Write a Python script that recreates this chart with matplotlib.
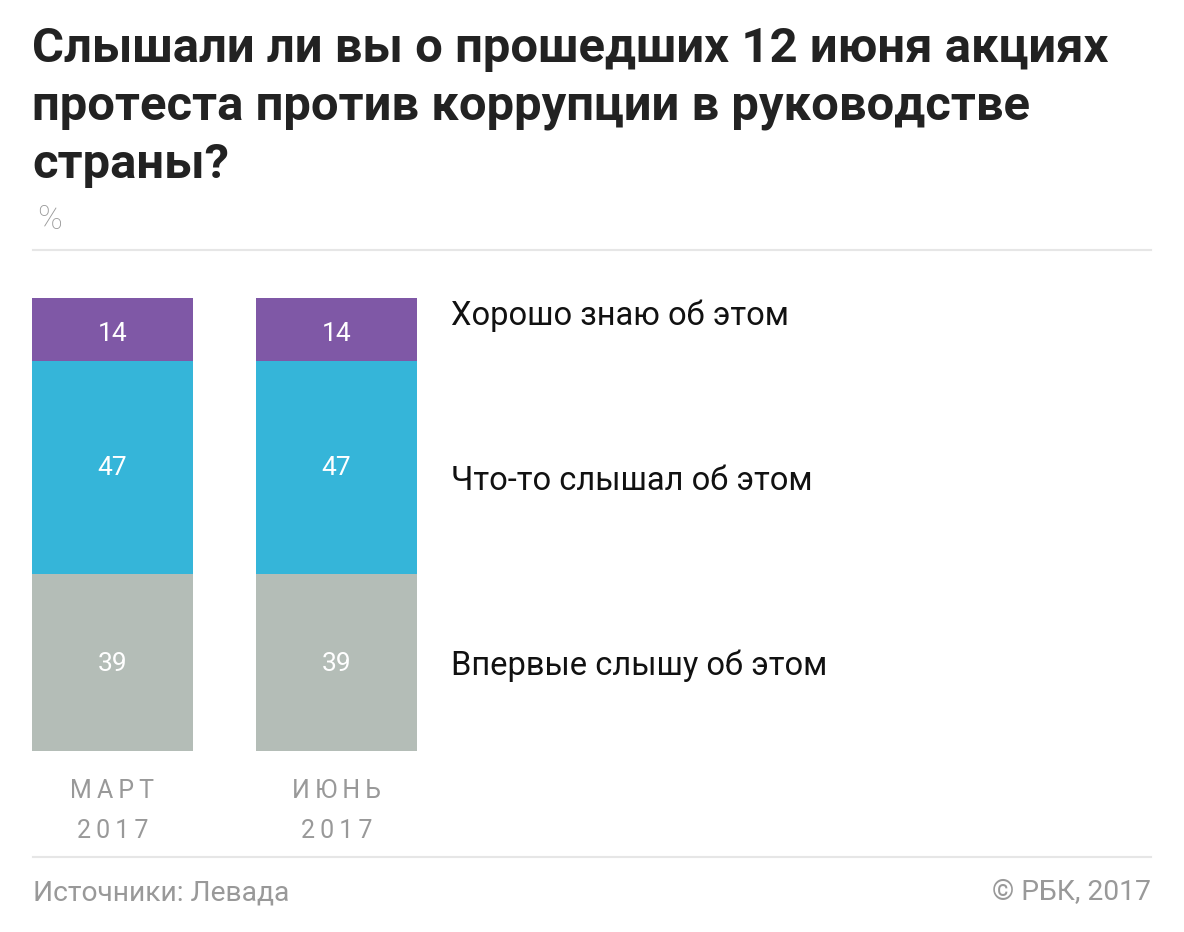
import matplotlib
matplotlib.use("Agg")
import matplotlib.pyplot as plt

periods = ["МАРТ\n2017", "ИЮНЬ\n2017"]
series_names = ["Впервые слышу об этом", "Что-то слышал об этом", "Хорошо знаю об этом"]
values = {
    "Впервые слышу об этом": [39, 39],
    "Что-то слышал об этом": [47, 47],
    "Хорошо знаю об этом": [14, 14],
}
colors = ["#b4bdb7", "#35b5d9", "#7f58a6"]

title = "Слышали ли вы о прошедших 12 июня акциях\nпротеста против коррупции в руководстве\nстраны?"
unit = "%"
source = "Источники: Левада"
credit = "© РБК, 2017"

W, H = 1184, 932
fig = plt.figure(figsize=(W / 100, H / 100), dpi=100)
fam = ["Roboto", "DejaVu Sans"]

def fx(px):
    return px / W

def fy(py):
    return 1 - py / H

# axes for bars
ax = fig.add_axes([fx(32), fy(751), fx(417) - fx(32), fy(298) - fy(751)])
x = list(range(len(periods)))
bw = 161 / 224
bottom = [0] * len(periods)
num_shift_px = [-1, 0, -4]
for name, c, dy in zip(series_names, colors, num_shift_px):
    v = values[name]
    ax.bar(x, v, width=bw, bottom=bottom, color=c, linewidth=0)
    for xi, (b, val) in enumerate(zip(bottom, v)):
        ax.annotate(str(val), xy=(xi, b + val / 2), xytext=(0, dy * 0.72),
                    textcoords="offset points", ha="center", va="center",
                    color="white", fontsize=19, family=fam)
    bottom = [b + val for b, val in zip(bottom, v)]
ax.set_xlim(-bw / 2, len(periods) - 1 + bw / 2)
ax.set_ylim(0, 100)
ax.axis("off")

# series labels on the right (at the second bar's segment centers)
label_shift_px = [-3, -13, 14]
cum = 0
for name, dy in zip(series_names, label_shift_px):
    mid = cum + values[name][-1] / 2
    cum += values[name][-1]
    ax.annotate(name, xy=(len(periods) - 1 + bw / 2, mid), xycoords="data",
                xytext=(34 * 0.72, dy * 0.72), textcoords="offset points",
                ha="left", va="center",
                fontsize=23.5, family=fam, color="#111111", annotation_clip=False)

# period labels
for xi, lab in enumerate(periods):
    l1, l2 = lab.split("\n")
    ax.annotate("\u2009".join(l1), xy=(xi, 0), xycoords="data", xytext=(0, -40 * 0.72),
                textcoords="offset points", ha="center", va="center",
                fontsize=18, family=fam, color="#999999", annotation_clip=False)
    ax.annotate("\u2009".join(l2), xy=(xi, 0), xycoords="data", xytext=(0, -80 * 0.72),
                textcoords="offset points", ha="center", va="center",
                fontsize=18, family=fam, color="#999999", annotation_clip=False)

# title
fig.text(fx(32), fy(26), title, ha="left", va="top", fontsize=35.3,
         fontweight="bold", family=fam, color="#222222", linespacing=1.32)
fig.text(fx(37), fy(220), unit, ha="left", va="center", fontsize=24,
         family=fam, color="#999999", fontweight="light")

# rules
for yy in (250, 857):
    fig.add_artist(plt.Line2D([fx(33), fx(1151)], [fy(yy), fy(yy)],
                              color="#e6e6e6", linewidth=1.5))

fig.text(fx(33), fy(893), source, ha="left", va="center", fontsize=20.3,
         family=fam, color="#999999")
fig.text(fx(1151), fy(893), credit, ha="right", va="center", fontsize=20.3,
         family=fam, color="#999999")

fig.savefig("out.png", dpi=100, facecolor="white")
